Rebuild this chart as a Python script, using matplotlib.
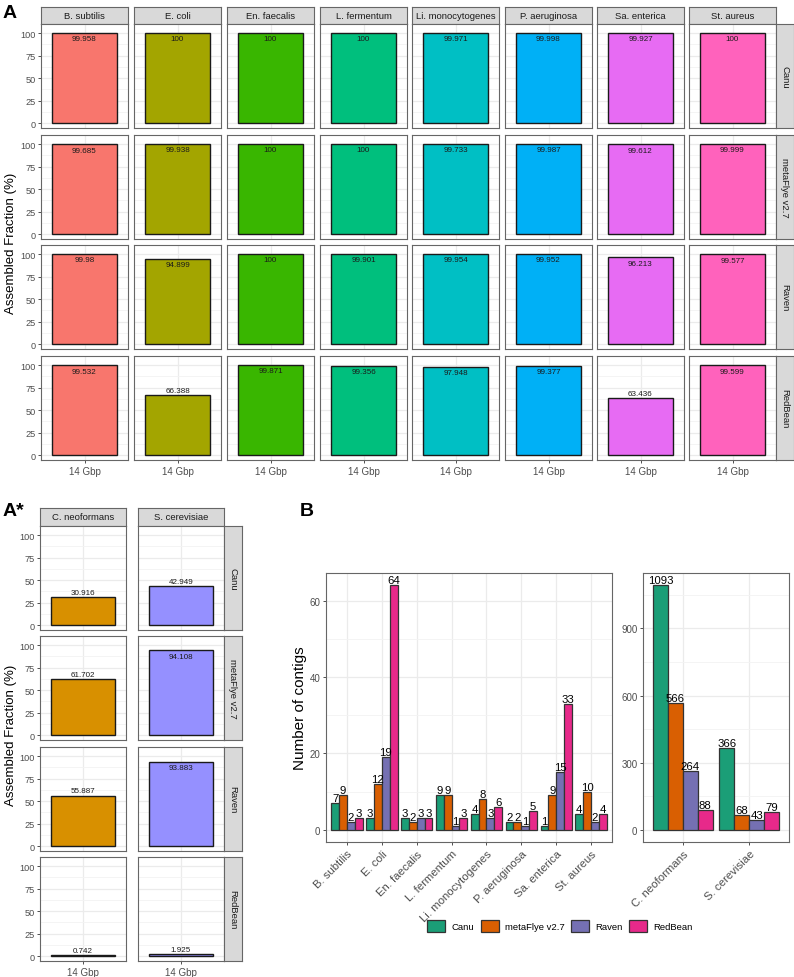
import matplotlib
matplotlib.use('Agg')
import matplotlib.pyplot as plt
from matplotlib.patches import Patch
from matplotlib.ticker import FixedLocator
import numpy as np

plt.rcParams['font.family'] = ['Liberation Sans', 'DejaVu Sans']

# --- data ---
bacteria = ['B. subtilis', 'E. coli', 'En. faecalis', 'L. fermentum',
            'Li. monocytogenes', 'P. aeruginosa', 'Sa. enterica', 'St. aureus']
yeasts = ['C. neoformans', 'S. cerevisiae']
assemblers = ['Canu', 'metaFlye v2.7', 'Raven', 'RedBean']

# assembled fraction (%), one list per assembler
frac_canu = [99.958, 100, 100, 100, 99.971, 99.998, 99.927, 100]
frac_flye = [99.685, 99.938, 100, 100, 99.733, 99.987, 99.612, 99.999]
frac_raven = [99.98, 94.899, 100, 99.901, 99.954, 99.952, 96.213, 99.577]
frac_redbean = [99.532, 66.388, 99.871, 99.356, 97.948, 99.377, 63.436, 99.599]

yeast_canu = [30.916, 42.949]
yeast_flye = [61.702, 94.108]
yeast_raven = [55.887, 93.883]
yeast_redbean = [0.742, 1.925]

# number of contigs
contigs_canu = [7, 3, 3, 9, 4, 2, 1, 4]
contigs_flye = [9, 12, 2, 9, 8, 2, 9, 10]
contigs_raven = [2, 19, 3, 1, 3, 1, 15, 2]
contigs_redbean = [3, 64, 3, 3, 6, 5, 33, 4]
yeast_contigs_canu = [1093, 366]
yeast_contigs_flye = [566, 68]
yeast_contigs_raven = [264, 43]
yeast_contigs_redbean = [88, 79]

depth_label = '14 Gbp'

bact_colors = ['#F8766D', '#A3A500', '#39B600', '#00BF7D',
               '#00BFC4', '#00B0F6', '#E76BF3', '#FF62BC']
yeast_colors = ['#D89000', '#9590FF']
asm_colors = ['#1B9E77', '#D95F02', '#7570B3', '#E7298A']

W, H = 794, 978
fig = plt.figure(figsize=(W / 100, H / 100), dpi=100)


def ax_at(x0, y0, x1, y1):
    return fig.add_axes([x0 / W, 1 - y1 / H, (x1 - x0) / W, (y1 - y0) / H])


def strip(x0, y0, x1, y1, text, rot=0):
    a = ax_at(x0, y0, x1, y1)
    a.set_facecolor('#D9D9D9')
    a.set_xticks([])
    a.set_yticks([])
    for s in a.spines.values():
        s.set_color('#666666')
        s.set_linewidth(0.8)
    a.text(0.5, 0.5, text, rotation=rot, ha='center', va='center',
           fontsize=6.8, color='#1A1A1A', transform=a.transAxes)


def frac_panel(a, val, color, show_y, show_x):
    a.bar(1, val, width=0.9, color=color, edgecolor='#1A1A1A', linewidth=1, zorder=3)
    a.set_xlim(0.4, 1.6)
    a.set_ylim(-5.5, 110)
    a.set_yticks([0, 25, 50, 75, 100])
    a.yaxis.set_minor_locator(FixedLocator([12.5, 37.5, 62.5, 87.5]))
    a.set_xticks([1])
    a.grid(True, which='major', color='#EBEBEB', linewidth=0.9, zorder=0)
    a.grid(True, which='minor', axis='y', color='#F3F3F3', linewidth=0.6, zorder=0)
    a.set_axisbelow(True)
    for s in a.spines.values():
        s.set_color('#666666')
        s.set_linewidth(0.8)
    a.tick_params(which='minor', length=0)
    a.tick_params(axis='y', length=2.5 if show_y else 0, width=0.6, color='#333333',
                  labelsize=6.6, labelcolor='#4D4D4D', pad=1.5, labelleft=show_y)
    a.tick_params(axis='x', length=2.5 if show_x else 0, width=0.6, color='#333333',
                  labelsize=7, labelcolor='#4D4D4D', pad=1.5, labelbottom=show_x)
    if show_x:
        a.set_xticklabels([depth_label])
    txt = '{:g}'.format(val)
    if val >= 90:
        a.text(1, val - 2.5, txt, ha='center', va='top', fontsize=5.8, color='#1A1A1A', zorder=4)
    else:
        a.text(1, val + 1.5, txt, ha='center', va='bottom', fontsize=5.8, color='#1A1A1A', zorder=4)


# --- panel A ---
frac_rows = [frac_canu, frac_flye, frac_raven, frac_redbean]
colsA = [41, 134, 227, 320, 412, 505, 597, 689]
rowsA = [25, 136, 246, 357]
pw, ph = 87, 104
for c, name in enumerate(bacteria):
    strip(colsA[c], 8, colsA[c] + pw, 25, name)
for r, vals in enumerate(frac_rows):
    for c in range(len(bacteria)):
        a = ax_at(colsA[c], rowsA[r], colsA[c] + pw, rowsA[r] + ph)
        frac_panel(a, vals[c], bact_colors[c], c == 0, r == 3)
    strip(776, rowsA[r], 794, rowsA[r] + ph, assemblers[r], rot=-90)
fig.text(11 / W, 1 - 243 / H, 'Assembled Fraction (%)', rotation=90,
         ha='center', va='center', fontsize=9.5)
fig.text(3 / W, 1 - 14 / H, 'A', fontsize=14, fontweight='bold', va='center')

# --- panel A* ---
yeast_rows = [yeast_canu, yeast_flye, yeast_raven, yeast_redbean]
colsY = [40, 138]
rowsY = [527, 637, 748, 858]
for c, name in enumerate(yeasts):
    strip(colsY[c], 509, colsY[c] + 86, 527, name)
for r, vals in enumerate(yeast_rows):
    for c in range(len(yeasts)):
        a = ax_at(colsY[c], rowsY[r], colsY[c] + 86, rowsY[r] + ph)
        frac_panel(a, vals[c], yeast_colors[c], c == 0, r == 3)
    strip(224, rowsY[r], 242, rowsY[r] + ph, assemblers[r], rot=-90)
fig.text(11 / W, 1 - 735 / H, 'Assembled Fraction (%)', rotation=90,
         ha='center', va='center', fontsize=9.5)
fig.text(3 / W, 1 - 511 / H, 'A*', fontsize=14, fontweight='bold', va='center')

# --- panel B ---
bact_contigs = [contigs_canu, contigs_flye, contigs_raven, contigs_redbean]
yeast_contigs = [yeast_contigs_canu, yeast_contigs_flye, yeast_contigs_raven, yeast_contigs_redbean]


def contig_panel(a, cats, series, ylim, yticks, yminor):
    x = np.arange(1, len(cats) + 1)
    bw = 0.225
    for j, vals in enumerate(series):
        xs = x + (j - 1.5) * bw
        a.bar(xs, vals, width=bw, color=asm_colors[j], edgecolor='#333333',
              linewidth=0.9, zorder=3)
        for xi, v in zip(xs, vals):
            a.text(xi, v, str(v), ha='center', va='bottom', fontsize=8.2, zorder=4)
    a.set_xlim(0.4, len(cats) + 0.6)
    a.set_ylim(*ylim)
    a.set_xticks(x)
    a.set_xticklabels(cats, rotation=45, ha='right', rotation_mode='anchor')
    a.set_yticks(yticks)
    a.yaxis.set_minor_locator(FixedLocator(yminor))
    a.grid(True, which='major', color='#EBEBEB', linewidth=0.9, zorder=0)
    a.grid(True, which='minor', axis='y', color='#F3F3F3', linewidth=0.6, zorder=0)
    a.set_axisbelow(True)
    for s in a.spines.values():
        s.set_color('#666666')
        s.set_linewidth(0.8)
    a.tick_params(which='minor', length=0)
    a.tick_params(axis='y', length=2.5, width=0.6, color='#333333', labelsize=7,
                  labelcolor='#4D4D4D', pad=1.5)
    a.tick_params(axis='x', length=2.5, width=0.6, color='#333333', labelsize=8.2,
                  labelcolor='#4D4D4D', pad=2)


aL = ax_at(326, 574, 612, 843)
contig_panel(aL, bacteria, bact_contigs, (-3.2, 67.2), [0, 20, 40, 60], [10, 30, 50])
aL.set_ylabel('Number of contigs', fontsize=11, labelpad=2)
aR = ax_at(643, 574, 789, 843)
contig_panel(aR, yeasts, yeast_contigs, (-54.65, 1147.65), [0, 300, 600, 900], [150, 450, 750, 1050])
fig.text(300 / W, 1 - 511 / H, 'B', fontsize=14, fontweight='bold', va='center')

handles = [Patch(facecolor=asm_colors[j], edgecolor='#333333', linewidth=0.9, label=assemblers[j])
           for j in range(4)]
fig.legend(handles=handles, loc='center', bbox_to_anchor=(560 / W, 1 - 927 / H), ncol=4,
           frameon=False, fontsize=6.8, handlelength=1.9, handleheight=1.6,
           handletextpad=0.65, columnspacing=0.7)

fig.savefig('out.png', dpi=100)
